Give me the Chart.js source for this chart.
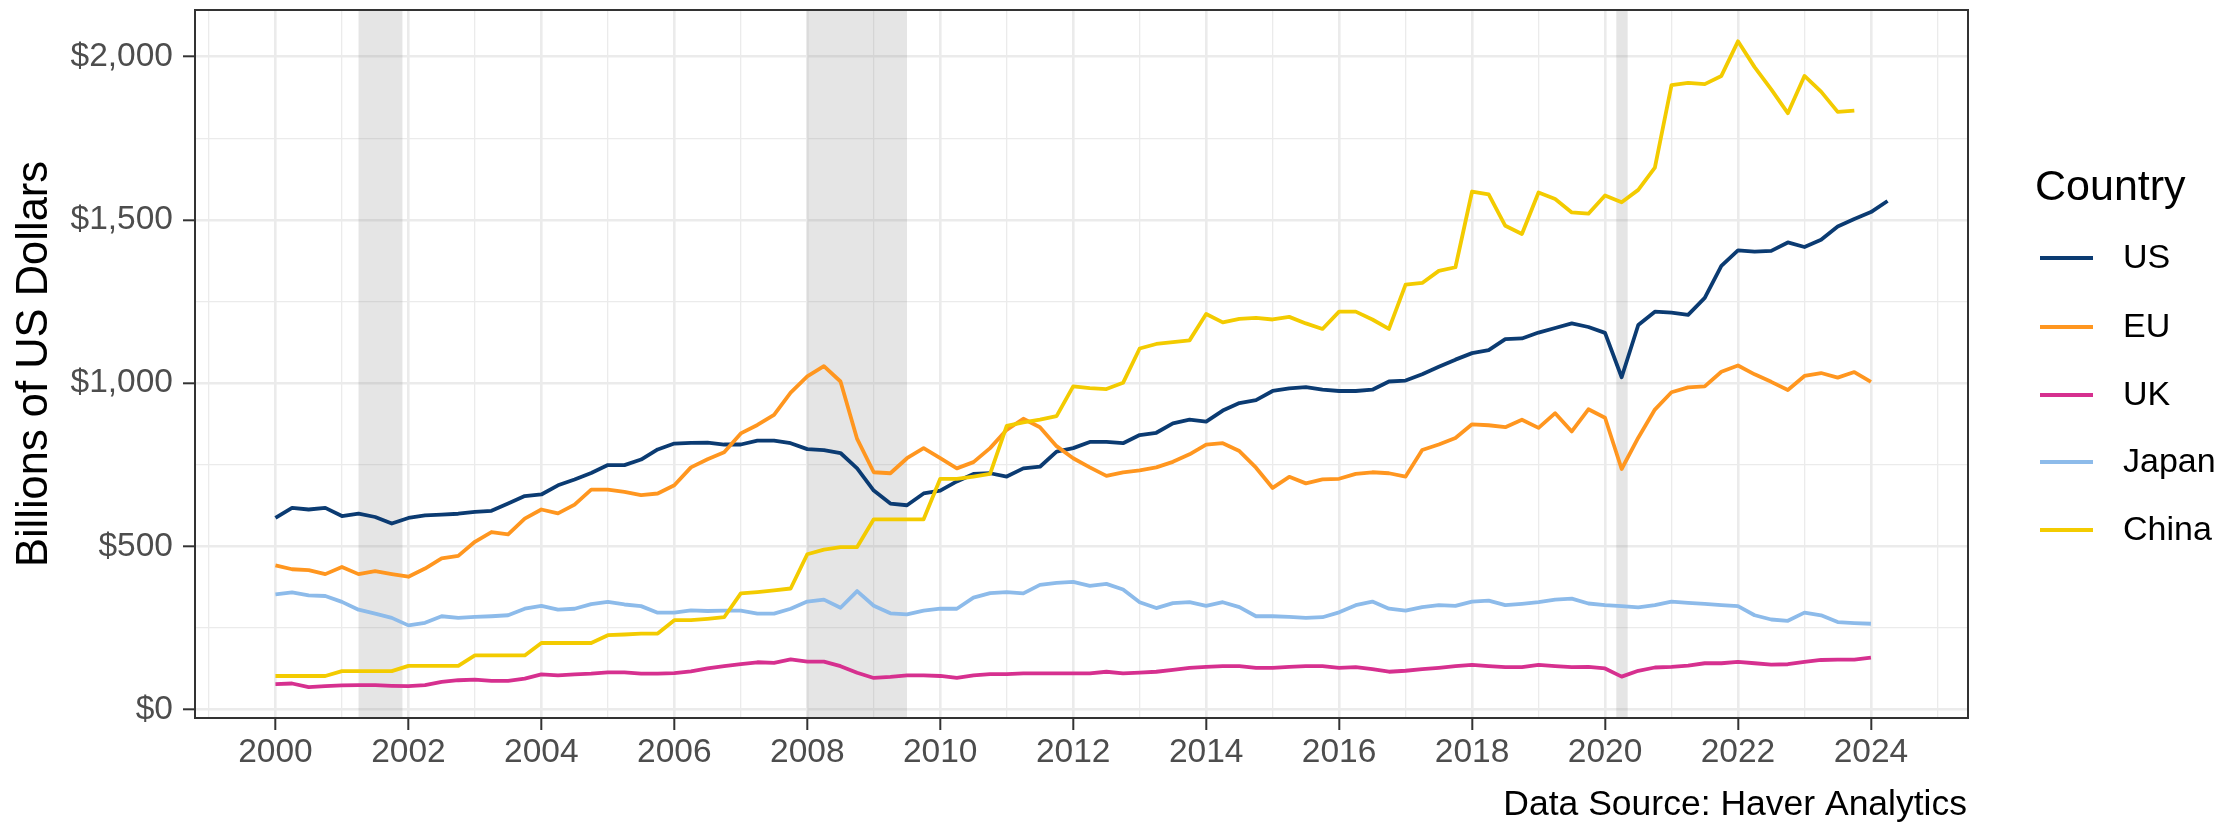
<!DOCTYPE html>
<html>
<head>
<meta charset="utf-8">
<title>Exports by country</title>
<script src="https://cdn.jsdelivr.net/npm/chart.js@4.4.1/dist/chart.umd.min.js"></script>
<style>
  html, body { margin: 0; padding: 0; background: #fff; }
  #wrap { width: 2237px; height: 822px; }
</style>
</head>
<body>
<div id="wrap"><canvas id="myChart" width="2237" height="822"></canvas></div>
<script>
// quarterly observations, first one is 2000 Q1
const startYear = 2000;
const countries = ['US', 'EU', 'UK', 'Japan', 'China'];
const colors = ['#0B3B72', '#FF961F', '#D6308F', '#8DBBEA', '#F3CB00'];

const us = [
  587, 618, 613, 618, 593, 600, 590, 570, 587, 595, 597, 600,
  606, 609, 631, 654, 659, 687, 705, 725, 749, 749, 766, 797,
  815, 817, 818, 812, 812, 824, 824, 816, 798, 795, 786, 739,
  671, 631, 626, 662, 671, 699, 722, 724, 714, 739, 744, 790,
  801, 820, 820, 816, 841, 848, 877, 888, 882, 916, 939, 948,
  976, 984, 988, 980, 976, 976, 980, 1005, 1008, 1027, 1050, 1072,
  1092, 1101, 1135, 1137, 1155, 1169, 1183, 1172, 1154, 1018, 1178, 1219,
  1216, 1209, 1261, 1359, 1407, 1403, 1405, 1431, 1417, 1439, 1480, 1503,
  1524, 1558
];
const eu = [
  442, 430, 427, 415, 437, 415, 424, 415, 407, 432, 463, 471,
  514, 544, 537, 585, 613, 601, 628, 674, 674, 667, 657, 662,
  687, 742, 767, 788, 846, 872, 903, 971, 1021, 1052, 1005, 829,
  727, 724, 770, 801, 770, 739, 758, 801, 857, 891, 865, 807,
  770, 742, 716, 727, 733, 742, 759, 782, 812, 816, 792, 741,
  679, 713, 693, 705, 707, 722, 727, 724, 714, 795, 812, 832,
  874, 871, 865, 888, 863, 908, 852, 920, 894, 737, 833, 919,
  972, 987, 990, 1035, 1054, 1027, 1004, 979, 1022, 1031, 1017, 1034,
  1004
];
const uk = [
  78, 80, 69, 72, 74, 75, 75, 73, 72, 75, 85, 90,
  92, 88, 88, 95, 108, 105, 108, 110, 114, 114, 110, 110,
  112, 117, 126, 133, 139, 145, 143, 154, 147, 147, 133, 113,
  97, 100, 105, 105, 103, 97, 105, 109, 109, 111, 111, 111,
  111, 111, 116, 111, 113, 116, 122, 128, 131, 133, 133, 128,
  128, 131, 133, 133, 128, 130, 124, 116, 119, 124, 128, 133,
  137, 133, 130, 130, 137, 133, 130, 131, 126, 101, 119, 129,
  131, 135, 142, 142, 146, 142, 138, 139, 146, 152, 153, 153,
  159
];
const japan = [
  353, 359, 350, 348, 330, 306, 294, 281, 258, 266, 286, 281,
  284, 286, 289, 309, 318, 306, 309, 323, 330, 322, 317, 297,
  297, 304, 302, 303, 303, 294, 294, 309, 331, 337, 312, 363,
  318, 295, 292, 303, 309, 309, 343, 357, 360, 356, 382, 388,
  391, 379, 385, 368, 329, 311, 326, 329, 318, 329, 314, 286,
  286, 284, 281, 283, 298, 320, 331, 309, 303, 314, 320, 318,
  331, 334, 320, 324, 329, 337, 340, 325, 320, 317, 313, 320,
  331, 327, 324, 320, 317, 289, 276, 272, 297, 289, 268, 265,
  263
];
const china = [
  103, 103, 103, 103, 118, 118, 118, 118, 134, 134, 134, 134,
  166, 166, 166, 166, 204, 204, 204, 204, 228, 230, 233, 233,
  274, 274, 278, 283, 356, 360, 365, 371, 476, 490, 498, 498,
  583, 583, 583, 583, 707, 707, 714, 722, 869, 880, 888, 899,
  990, 985, 982, 1001, 1106, 1120, 1126, 1131, 1212, 1186, 1197, 1200,
  1195, 1203, 1183, 1166, 1219, 1219, 1195, 1166, 1302, 1307, 1344, 1355,
  1587, 1578, 1482, 1457, 1584, 1564, 1523, 1519, 1575, 1554, 1592, 1660,
  1913, 1920, 1916, 1941, 2047, 1968, 1900, 1827, 1941, 1893, 1831, 1835
];

// recession periods (fractional years)
const recessions = [[2001.25, 2001.91], [2008.0, 2009.5], [2020.17, 2020.34]];

const xTicks = [];
for (let y = 1999; y <= 2025; y++) xTicks.push(y);
const yTicks = [0, 250, 500, 750, 1000, 1250, 1500, 1750, 2000];

const quarterOf = (i) => startYear + i / 4;
const series = [us, eu, uk, japan, china];

const FONT = '"Liberation Sans", Arial, Helvetica, sans-serif';
const gridColor = '#EBEBEB';

const recessionPlugin = {
  id: 'recessions',
  beforeDatasetsDraw(chart) {
    const { ctx, chartArea, scales } = chart;
    ctx.save();
    ctx.fillStyle = 'rgba(127,127,127,0.2)';
    recessions.forEach(([a, b]) => {
      const x0 = scales.x.getPixelForValue(a);
      const x1 = scales.x.getPixelForValue(b);
      ctx.fillRect(x0, chartArea.top, x1 - x0, chartArea.bottom - chartArea.top);
    });
    ctx.restore();
  }
};

const panelPlugin = {
  id: 'panel',
  afterDatasetsDraw(chart) {
    const { ctx, chartArea } = chart;
    ctx.save();
    ctx.strokeStyle = '#333333';
    ctx.lineWidth = 2;
    ctx.strokeRect(chartArea.left, chartArea.top,
      chartArea.right - chartArea.left, chartArea.bottom - chartArea.top);
    ctx.restore();
  },
  afterDraw(chart) {
    const { ctx } = chart;
    ctx.save();
    // legend
    ctx.fillStyle = '#000';
    ctx.textAlign = 'left';
    ctx.textBaseline = 'alphabetic';
    ctx.font = '43px ' + FONT;
    ctx.fillText('Country', 2035, 200);
    const rows = [258, 327, 395, 462, 530];
    chart.data.datasets.forEach((ds, i) => {
      ctx.strokeStyle = ds.borderColor;
      ctx.lineWidth = 3.8;
      ctx.beginPath();
      ctx.moveTo(2040, rows[i]);
      ctx.lineTo(2093, rows[i]);
      ctx.stroke();
      ctx.fillStyle = '#000';
      ctx.font = '34px ' + FONT;
      ctx.textBaseline = 'middle';
      ctx.fillText(ds.label, 2123, rows[i] + 1);
    });
    // caption
    ctx.textAlign = 'right';
    ctx.textBaseline = 'alphabetic';
    ctx.font = '35.5px ' + FONT;
    ctx.fillText('Data Source: Haver Analytics', 1967, 815);
    ctx.restore();
  }
};

const config = {
  type: 'line',
  data: {
    datasets: countries.map((name, k) => ({
      label: name,
      data: series[k].map((v, i) => ({ x: quarterOf(i), y: v })),
      borderColor: colors[k],
      backgroundColor: colors[k],
      borderWidth: 3.8,
      pointRadius: 0,
      tension: 0,
      fill: false,
      borderJoinStyle: 'round',
      order: countries.length - k
    }))
  },
  options: {
    responsive: false,
    animation: false,
    devicePixelRatio: 1,
    layout: { padding: { top: 10, right: 269, bottom: 0, left: 0 } },
    plugins: {
      legend: { display: false },
      tooltip: { enabled: false }
    },
    scales: {
      x: {
        type: 'linear',
        min: 1998.79,
        max: 2025.46,
        afterBuildTicks: (s) => { s.ticks = xTicks.map(v => ({ value: v })); },
        afterFit: (s) => { s.height = 104; s.paddingLeft = 0; s.paddingRight = 0; },
        border: { display: false },
        grid: {
          color: gridColor,
          lineWidth: (c) => (c.tick && c.tick.value % 2 === 0 ? 2.6 : 1.3),
          drawTicks: true,
          tickLength: 12,
          tickWidth: 2,
          tickColor: (c) => (c.tick && c.tick.value % 2 === 0 ? '#333333' : 'rgba(0,0,0,0)')
        },
        ticks: {
          autoSkip: false,
          maxRotation: 0,
          padding: 3,
          color: '#4D4D4D',
          font: { family: FONT, size: 33.5 },
          callback: (v) => (v % 2 === 0 ? String(v) : '')
        }
      },
      y: {
        type: 'linear',
        min: -25.7,
        max: 2143,
        afterBuildTicks: (s) => { s.ticks = yTicks.map(v => ({ value: v })); },
        afterFit: (s) => { s.width = 195; s.paddingTop = 0; s.paddingBottom = 0; },
        border: { display: false },
        grid: {
          color: gridColor,
          lineWidth: (c) => (c.tick && c.tick.value % 500 === 0 ? 2.6 : 1.3),
          drawTicks: true,
          tickLength: 12,
          tickWidth: 2,
          tickColor: (c) => (c.tick && c.tick.value % 500 === 0 ? '#333333' : 'rgba(0,0,0,0)')
        },
        ticks: {
          padding: 10,
          color: '#4D4D4D',
          font: { family: FONT, size: 33.5 },
          callback: (v) => (v % 500 === 0 ? '$' + v.toLocaleString('en-US') : '')
        },
        title: {
          display: true,
          text: 'Billions of US Dollars',
          color: '#000',
          font: { family: FONT, size: 43.5 },
          padding: { top: 9, bottom: 0 }
        }
      }
    }
  },
  plugins: [recessionPlugin, panelPlugin]
};

const myChart = new Chart(document.getElementById('myChart'), config);
</script>
</body>
</html>
